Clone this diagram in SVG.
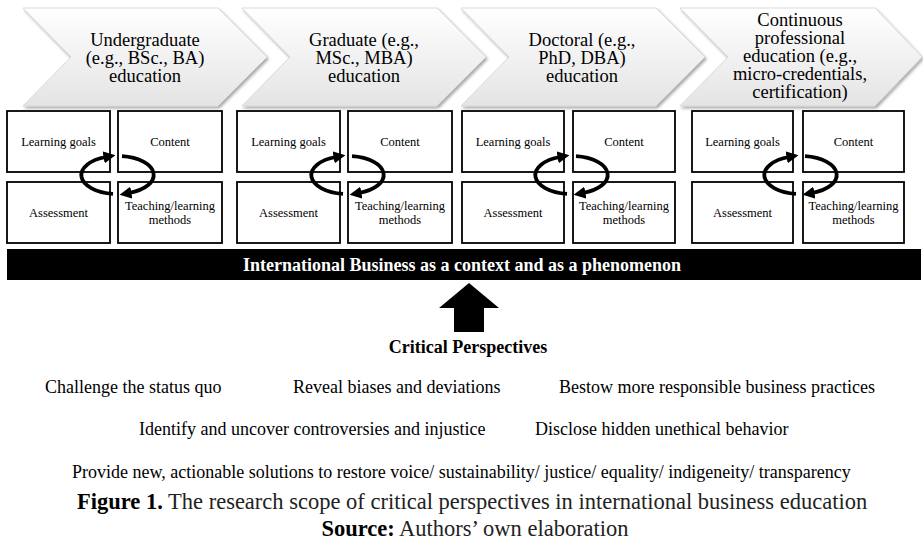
<svg xmlns="http://www.w3.org/2000/svg" width="923" height="541" viewBox="0 0 923 541">
  <defs>
    <linearGradient id="chevFill" x1="0" y1="0" x2="0" y2="1">
      <stop offset="0" stop-color="#ffffff"/>
      <stop offset="1" stop-color="#e4e4e4"/>
    </linearGradient>
    <filter id="softShadow" x="-5%" y="-10%" width="115%" height="130%">
      <feDropShadow dx="1.5" dy="2" stdDeviation="1.4" flood-color="#000" flood-opacity="0.35"/>
    </filter>
    <marker id="cycleHead" viewBox="0 0 10 10" refX="2" refY="5" markerWidth="12" markerHeight="12" markerUnits="userSpaceOnUse" orient="auto">
      <path d="M0,0 L10,5 L0,10 Z" fill="#000"/>
    </marker>
  </defs>
  <style>
    .chev { fill: url(#chevFill); stroke: #d2d2d2; stroke-width: 0.8; filter: url(#softShadow); }
    .chevText { font-family: "Liberation Serif", "Times New Roman", serif; font-size: 18.5px; fill: #000; text-anchor: middle; }
    .box { fill: #fff; stroke: #000; stroke-width: 1.8; }
    .boxText { font-family: "Liberation Serif", "Times New Roman", serif; font-size: 12.5px; fill: #000; text-anchor: middle; }
    .cycle { fill: none; stroke: #000; stroke-width: 3.8; marker-end: url(#cycleHead); }
    .barText { font-family: "Liberation Serif", "Times New Roman", serif; font-size: 18px; font-weight: bold; fill: #fff; text-anchor: middle; }
    .title { font-family: "Liberation Serif", "Times New Roman", serif; font-size: 18px; font-weight: bold; fill: #000; text-anchor: middle; }
    .item { font-family: "Liberation Serif", "Times New Roman", serif; font-size: 18px; fill: #000; }
    .caption { font-family: "Liberation Serif", "Times New Roman", serif; font-size: 22.5px; fill: #222; }
  </style>

  <!-- Education stages (chevron process) -->
  <g id="stage-undergraduate">
    <polygon class="chev" points="23,8 218,8 267,57 218,106 23,106 71,57"/>
    <text class="chevText" x="145" y="46">Undergraduate</text>
    <text class="chevText" x="145" y="64">(e.g., BSc., BA)</text>
    <text class="chevText" x="145" y="82">education</text>
  </g>
  <g id="stage-graduate">
    <polygon class="chev" points="242,8 437,8 486,57 437,106 242,106 290,57"/>
    <text class="chevText" x="364" y="46">Graduate (e.g.,</text>
    <text class="chevText" x="364" y="64">MSc., MBA)</text>
    <text class="chevText" x="364" y="82">education</text>
  </g>
  <g id="stage-doctoral">
    <polygon class="chev" points="461,8 656,8 705,57 656,106 461,106 509,57"/>
    <text class="chevText" x="582" y="46">Doctoral (e.g.,</text>
    <text class="chevText" x="582" y="64">PhD, DBA)</text>
    <text class="chevText" x="582" y="82">education</text>
  </g>
  <g id="stage-continuous">
    <polygon class="chev" points="680,8 875,8 922,57 875,106 680,106 728,57"/>
    <text class="chevText" x="800" y="26">Continuous</text>
    <text class="chevText" x="800" y="44">professional</text>
    <text class="chevText" x="800" y="62">education (e.g.,</text>
    <text class="chevText" x="800" y="80">micro-credentials,</text>
    <text class="chevText" x="800" y="98">certification)</text>
  </g>

  <!-- Curriculum quadrants under each stage -->
  <g id="quad-1" transform="translate(7,111)">
    <rect class="box" x="0" y="0" width="103" height="61"/>
    <rect class="box" x="111" y="0" width="104" height="61"/>
    <rect class="box" x="0" y="71" width="103" height="61"/>
    <rect class="box" x="111" y="71" width="104" height="61"/>
    <text class="boxText" x="51.5" y="35">Learning goals</text>
    <text class="boxText" x="163" y="35">Content</text>
    <text class="boxText" x="51.5" y="105.5">Assessment</text>
    <text class="boxText" x="163" y="99">Teaching/learning</text>
    <text class="boxText" x="163" y="113">methods</text>
  </g>
  <g id="quad-2" transform="translate(237,111)">
    <rect class="box" x="0" y="0" width="103" height="61"/>
    <rect class="box" x="111" y="0" width="104" height="61"/>
    <rect class="box" x="0" y="71" width="103" height="61"/>
    <rect class="box" x="111" y="71" width="104" height="61"/>
    <text class="boxText" x="51.5" y="35">Learning goals</text>
    <text class="boxText" x="163" y="35">Content</text>
    <text class="boxText" x="51.5" y="105.5">Assessment</text>
    <text class="boxText" x="163" y="99">Teaching/learning</text>
    <text class="boxText" x="163" y="113">methods</text>
  </g>
  <g id="quad-3" transform="translate(462,111)">
    <rect class="box" x="0" y="0" width="102" height="61"/>
    <rect class="box" x="111" y="0" width="102" height="61"/>
    <rect class="box" x="0" y="71" width="102" height="61"/>
    <rect class="box" x="111" y="71" width="102" height="61"/>
    <text class="boxText" x="51" y="35">Learning goals</text>
    <text class="boxText" x="162" y="35">Content</text>
    <text class="boxText" x="51" y="105.5">Assessment</text>
    <text class="boxText" x="162" y="99">Teaching/learning</text>
    <text class="boxText" x="162" y="113">methods</text>
  </g>
  <g id="quad-4" transform="translate(692,111)">
    <rect class="box" x="0" y="0" width="101" height="61"/>
    <rect class="box" x="111" y="0" width="101" height="61"/>
    <rect class="box" x="0" y="71" width="101" height="61"/>
    <rect class="box" x="111" y="71" width="101" height="61"/>
    <text class="boxText" x="50.5" y="35">Learning goals</text>
    <text class="boxText" x="161.5" y="35">Content</text>
    <text class="boxText" x="50.5" y="105.5">Assessment</text>
    <text class="boxText" x="161.5" y="99">Teaching/learning</text>
    <text class="boxText" x="161.5" y="113">methods</text>
  </g>

  <!-- Context bar -->
  <g id="context-bar">
    <rect x="7" y="249" width="914" height="31" fill="#000"/>
    <text class="barText" x="462" y="271">International Business as a context and as a phenomenon</text>
  </g>

  <!-- Critical perspectives -->
  <g id="critical-perspectives">
    <text class="title" x="468" y="353">Critical Perspectives</text>
    <text class="item" x="45" y="393">Challenge the status quo</text>
    <text class="item" x="293" y="393">Reveal biases and deviations</text>
    <text class="item" x="559" y="393">Bestow more responsible business practices</text>
    <text class="item" x="139" y="435">Identify and uncover controversies and injustice</text>
    <text class="item" x="535" y="435">Disclose hidden unethical behavior</text>
    <text class="item" x="72" y="478">Provide new, actionable solutions to restore voice/ sustainability/ justice/ equality/ indigeneity/ transparency</text>
  </g>

  <!-- Connectors: learning cycles and upward arrow -->
  <g id="connectors">
    <g transform="translate(7,0)">
      <path class="cycle" d="M106,193.9 A36 19 0 0 1 99,157"/>
      <path class="cycle" d="M115,156.1 A36 19 0 0 1 122,193"/>
    </g>
    <g transform="translate(237,0)">
      <path class="cycle" d="M106,193.9 A36 19 0 0 1 99,157"/>
      <path class="cycle" d="M115,156.1 A36 19 0 0 1 122,193"/>
    </g>
    <g transform="translate(461,0)">
      <path class="cycle" d="M106,193.9 A36 19 0 0 1 99,157"/>
      <path class="cycle" d="M115,156.1 A36 19 0 0 1 122,193"/>
    </g>
    <g transform="translate(690,0)">
      <path class="cycle" d="M106,193.9 A36 19 0 0 1 99,157"/>
      <path class="cycle" d="M115,156.1 A36 19 0 0 1 122,193"/>
    </g>
    <polygon points="469,283 499,308 484,308 484,332 454,332 454,308 439,308" fill="#000"/>
  </g>

  <!-- Caption -->
  <g id="caption">
    <text class="caption" x="77" y="509"><tspan font-weight="bold" fill="#000">Figure 1.</tspan> The research scope of critical perspectives in international business education</text>
    <text class="caption" x="475" y="536" text-anchor="middle"><tspan font-weight="bold" fill="#000">Source:</tspan> Authors’ own elaboration</text>
  </g>
</svg>
